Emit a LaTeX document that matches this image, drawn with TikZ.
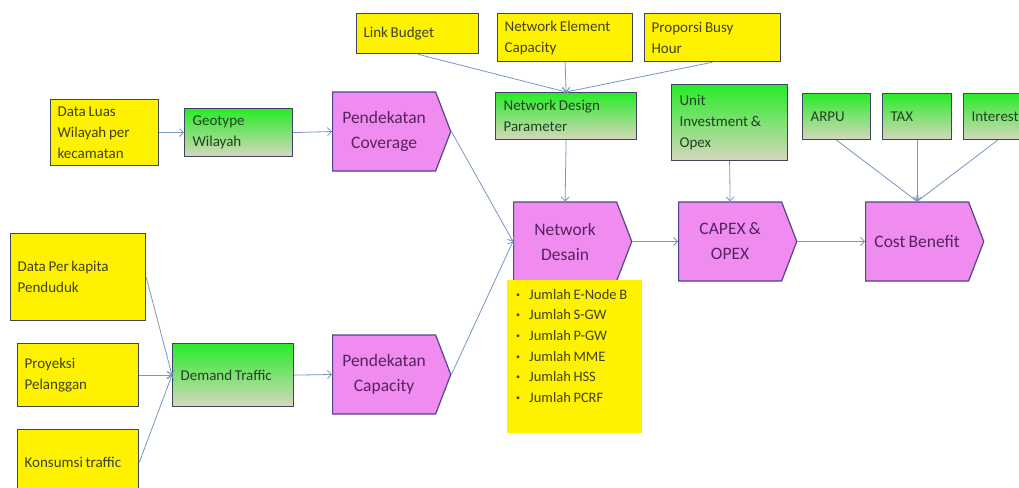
\documentclass[tikz,border=0pt]{standalone}
\usepackage{fontspec}
\setmainfont{Carlito}[WordSpace=0.8]
\usetikzlibrary{shapes.symbols,arrows.meta}
\definecolor{bordc}{RGB}{62,70,95}
\definecolor{pinkfill}{RGB}{240,140,240}
\definecolor{pinkline}{RGB}{80,70,140}
\definecolor{linkc}{RGB}{120,150,195}
\definecolor{ytext}{RGB}{65,65,30}
\definecolor{gtext}{RGB}{35,65,35}
\definecolor{ptext}{RGB}{85,35,95}
\definecolor{gtop}{RGB}{40,235,40}
\definecolor{gbot}{RGB}{215,215,190}
\newcommand{\jbul}{\raisebox{2pt}{\fontsize{8}{8}\selectfont\textbullet}\hspace{9pt}}

\begin{document}
\begin{tikzpicture}[x=1pt,y=-1pt,
  ybox/.style={draw=bordc,line width=1.2pt,fill=yellow,text=ytext,align=flush left,inner xsep=7pt,inner ysep=0pt,anchor=north west,font=\fontsize{15}{21}\selectfont},
  gbox/.style={draw=bordc,line width=1.2pt,top color=gtop,bottom color=gbot,text=gtext,align=flush left,inner xsep=8pt,inner ysep=0pt,anchor=north west,font=\fontsize{15}{21}\selectfont},
  pbox/.style={signal,signal to=east,signal pointer angle=138,draw=pinkline,line width=1.2pt,fill=pinkfill,text=ptext,align=flush center,inner xsep=2pt,inner ysep=0pt,minimum height=79pt,anchor=west,font=\fontsize{17.5}{25}\selectfont},
  link/.style={draw=linkc,line width=0.8pt,-{Straight Barb[length=4pt,width=8pt]}}]
  \useasboundingbox (0,0) rectangle (1019,487);
  \clip (0,0) rectangle (1019,487);

  % inputs on the left
  \node[ybox,text width=94pt,minimum height=66pt] (dlw) at (50,99) {Data Luas\\Wilayah per\\kecamatan};
  \node[gbox,text width=92pt,minimum height=48pt] (geo) at (184,108) {Geotype\\Wilayah};
  \node[ybox,text width=121pt,minimum height=87pt] (dpk) at (10,233) {Data Per kapita\\Penduduk};
  \node[ybox,text width=107pt,minimum height=63pt] (pro) at (17,343) {Proyeksi\\Pelanggan};
  \node[ybox,text width=107pt,minimum height=66pt] (kon) at (17,429) {Konsumsi traffic};
  \node[gbox,text width=105pt,minimum height=63pt] (dem) at (172,343) {Demand Traffic};

  % approaches
  \node[pbox,text width=99pt] (cov) at (332,131.5) {Pendekatan\\Coverage};
  \node[pbox,text width=99pt] (cap) at (332,374.5) {Pendekatan\\Capacity};

  % design parameters on top
  \node[ybox,text width=108pt,minimum height=40pt] (lb) at (356,13) {Link Budget};
  \node[ybox,text width=121pt,minimum height=48pt] (nec) at (497,13) {Network Element\\Capacity};
  \node[ybox,text width=122pt,minimum height=48pt] (pbh) at (644,13) {Proporsi Busy\\Hour};
  \node[gbox,text width=125pt,minimum height=47pt] (ndp) at (495,92) {Network Design\\Parameter};
  \node[gbox,text width=100pt,minimum height=76pt] (uio) at (671,84) {Unit\\Investment \&\\Opex};
  \node[gbox,text width=52pt,minimum height=46pt] (arpu) at (802,93) {ARPU};
  \node[gbox,text width=53pt,minimum height=46pt] (tax) at (882,93) {TAX};
  \node[gbox,text width=52pt,minimum height=46pt] (int) at (963,93) {Interest};

  % main chain
  \node[pbox,text width=99pt] (net) at (513,241.5) {Network\\Desain};
  \node[pbox,text width=99pt] (capex) at (678,241.5) {CAPEX \&\\OPEX};
  \node[pbox,text width=99pt] (cb) at (865,241.5) {Cost Benefit};

  % output list
  \node[fill=yellow,anchor=north west,minimum width=135pt,minimum height=153pt,inner sep=0pt] (jml) at (507,280) {};
  \node[anchor=north west,align=flush left,inner sep=0pt,text=ytext,font=\fontsize{14.5}{20.6}\selectfont] (jmltxt) at (516,289)
    {\jbul Jumlah E-Node B\\\jbul Jumlah S-GW\\\jbul Jumlah P-GW\\
     \jbul Jumlah MME\\\jbul Jumlah HSS\\\jbul Jumlah PCRF};

  \draw[link] (dlw.east) -- (geo.west);
  \draw[link] (geo.east) -- (cov.west);
  \draw[link] (dpk.east) -- (dem.west);
  \draw[link] (pro.east) -- (dem.west);
  \draw[link] (kon.east) -- (dem.west);
  \draw[link] (dem.east) -- (cap.west);
  \draw[link] (cov.east) -- (net.west);
  \draw[link] (cap.east) -- (net.west);
  \draw[link] (lb.south) -- (ndp.north);
  \draw[link] (nec.south) -- (ndp.north);
  \draw[link] (pbh.south) -- (ndp.north);
  \draw[link] (ndp.south) -- (net.north);
  \draw[link] (uio.south) -- (capex.north);
  \draw[link] (arpu.south) -- (cb.north);
  \draw[link] (tax.south) -- (cb.north);
  \draw[link] (int.south) -- (cb.north);
  \draw[link] (net.east) -- (capex.west);
  \draw[link] (capex.east) -- (cb.west);
\end{tikzpicture}
\end{document}
